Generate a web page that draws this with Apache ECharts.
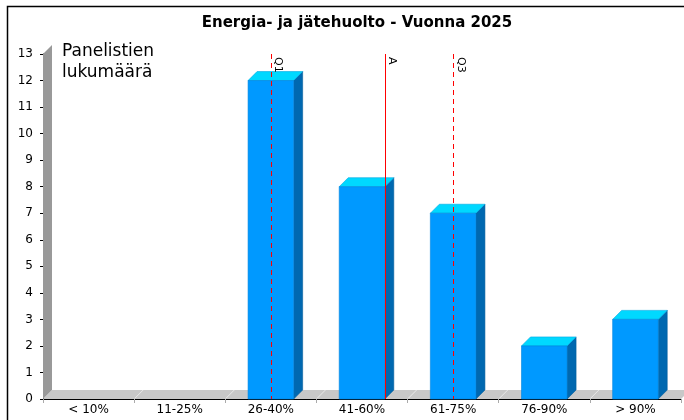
<!DOCTYPE html>
<html><head><meta charset="utf-8">
<script src="https://cdn.jsdelivr.net/npm/echarts@6/dist/echarts.min.js"></script>
<style>html,body{margin:0;padding:0;background:#fff}#c{width:684px;height:420px}</style>
</head><body><div id="c"></div>
<script>
const titleText = 'Energia- ja jätehuolto - Vuonna 2025';
const yAxisTitle = 'Panelistien\nlukumäärä';
const categories = ['< 10%', '11-25%', '26-40%', '41-60%', '61-75%', '76-90%', '> 90%'];
const counts = [0, 0, 12, 8, 7, 2, 3];
const yMin = 0, yMax = 13, yStep = 1;
// marker positions on a 0..7 scale where category i spans [i, i+1]
const markerNames = ['Q1', 'A', 'Q3'];
const markerPositions = [2.5, 3.75, 4.5];
const markerDashed = [true, false, true];

const D = 9; // 3D depth
const FONT = 'DejaVu Sans';
const RED = '#ff0000';

function renderFloor(params, api) {
  const i = api.value(0);
  const a = api.coord([i, yMin]);
  const b = api.coord([i + 1, yMin]);
  const y = a[1];
  const children = [
    {type: 'polygon', shape: {points: [[a[0], y], [a[0] + D, y - D], [b[0] + D, y - D], [b[0], y]]},
     style: {fill: '#c8c8c8'}},
    {type: 'polyline', shape: {points: [[a[0] + 1, y - 1], [a[0] + D, y - D]]},
     style: {stroke: '#e6e6e6', fill: null, lineWidth: 1}}
  ];
  if (i === 0) {
    const t = api.coord([0, yMax]);
    children.push({type: 'polygon',
      shape: {points: [[a[0], y], [a[0], t[1]], [a[0] + D, t[1] - D], [a[0] + D, y - D]]},
      style: {fill: '#999999'}});
  }
  return {type: 'group', children};
}

function renderBar(params, api) {
  const idx = api.value(0);
  const v = api.value(1);
  if (!v) return;
  const top = api.coord([idx, v]);
  const base = api.coord([idx, 0]);
  const w = api.size([1, 0])[0] * 0.5;
  const x0 = top[0] - w / 2, x1 = top[0] + w / 2, yT = top[1], yB = base[1];
  return {type: 'group', children: [
    {type: 'polygon', shape: {points: [[x1, yB], [x1 + D, yB - D], [x1 + D, yT - D], [x1, yT]]},
     style: {fill: '#0068b0', stroke: '#005c9c', lineWidth: 0.6}},
    {type: 'polygon', shape: {points: [[x0, yT], [x0 + D, yT - D], [x1 + D, yT - D], [x1, yT]]},
     style: {fill: '#00d8ff', stroke: '#00a8e0', lineWidth: 0.6}},
    {type: 'rect', shape: {x: x0, y: yT, width: w, height: yB - yT},
     style: {fill: '#0099ff', stroke: '#0084dd', lineWidth: 0.6}}
  ]};
}

const markData = markerPositions.map((p, k) => [
  {coord: [p, yMax], name: markerNames[k],
   lineStyle: {color: RED, width: 1, type: markerDashed[k] ? [5, 4] : 'solid'}},
  {coord: [p, yMin]}
]);

const chart = echarts.init(document.getElementById('c'), null, {renderer: 'canvas'});
chart.setOption({
  animation: false,
  backgroundColor: '#fff',
  textStyle: {fontFamily: FONT},
  title: {text: titleText, left: 352, top: 11, textAlign: 'center',
    textStyle: {fontFamily: FONT, fontSize: 15, fontWeight: 'bold', color: '#000'}},
  graphic: [
    {type: 'rect', shape: {x: 7.5, y: 6.5, width: 720, height: 500},
     style: {fill: 'none', stroke: '#000', lineWidth: 1.5}, z: 100},
    {type: 'text', x: 62, y: 41, z: 100,
     style: {text: yAxisTitle, font: '17px "DejaVu Sans"', fill: '#000', lineHeight: 21}}
  ],
  grid: {left: 43, right: 3, top: 54, bottom: 21, containLabel: false},
  xAxis: [
    {type: 'category', data: categories,
     axisLine: {show: true, lineStyle: {color: '#000', width: 1}},
     axisTick: {show: true, length: 4, lineStyle: {color: '#aaa'}},
     axisLabel: {fontSize: 12, color: '#000', margin: 5, fontFamily: FONT},
     splitLine: {show: false}},
    {type: 'value', min: 0, max: categories.length, show: false}
  ],
  yAxis: {type: 'value', min: yMin, max: yMax, interval: yStep, offset: 4,
    axisLine: {show: true, lineStyle: {color: '#000', width: 1}},
    axisTick: {show: true, length: 3, lineStyle: {color: '#000'}},
    axisLabel: {fontSize: 12, color: '#000', margin: 6, fontFamily: FONT},
    splitLine: {show: false}},
  series: [
    {type: 'custom', xAxisIndex: 1, renderItem: renderFloor, z: 1, silent: true,
     data: categories.map((c, i) => [i])},
    {type: 'custom', xAxisIndex: 0, renderItem: renderBar, z: 2,
     data: counts.map((v, i) => [i, v])},
    {type: 'line', xAxisIndex: 1, data: [], z: 3, silent: true, symbol: 'none',
     markLine: {silent: true, symbol: ['none', 'none'], animation: false,
       lineStyle: {color: RED, width: 1},
       label: {show: true, formatter: '{b}', position: 'insideStartTop', distance: [3, 2],
               color: '#000', fontSize: 11, fontFamily: FONT},
       emphasis: {disabled: true},
       data: markData}}
  ]
});
</script>
</body></html>
